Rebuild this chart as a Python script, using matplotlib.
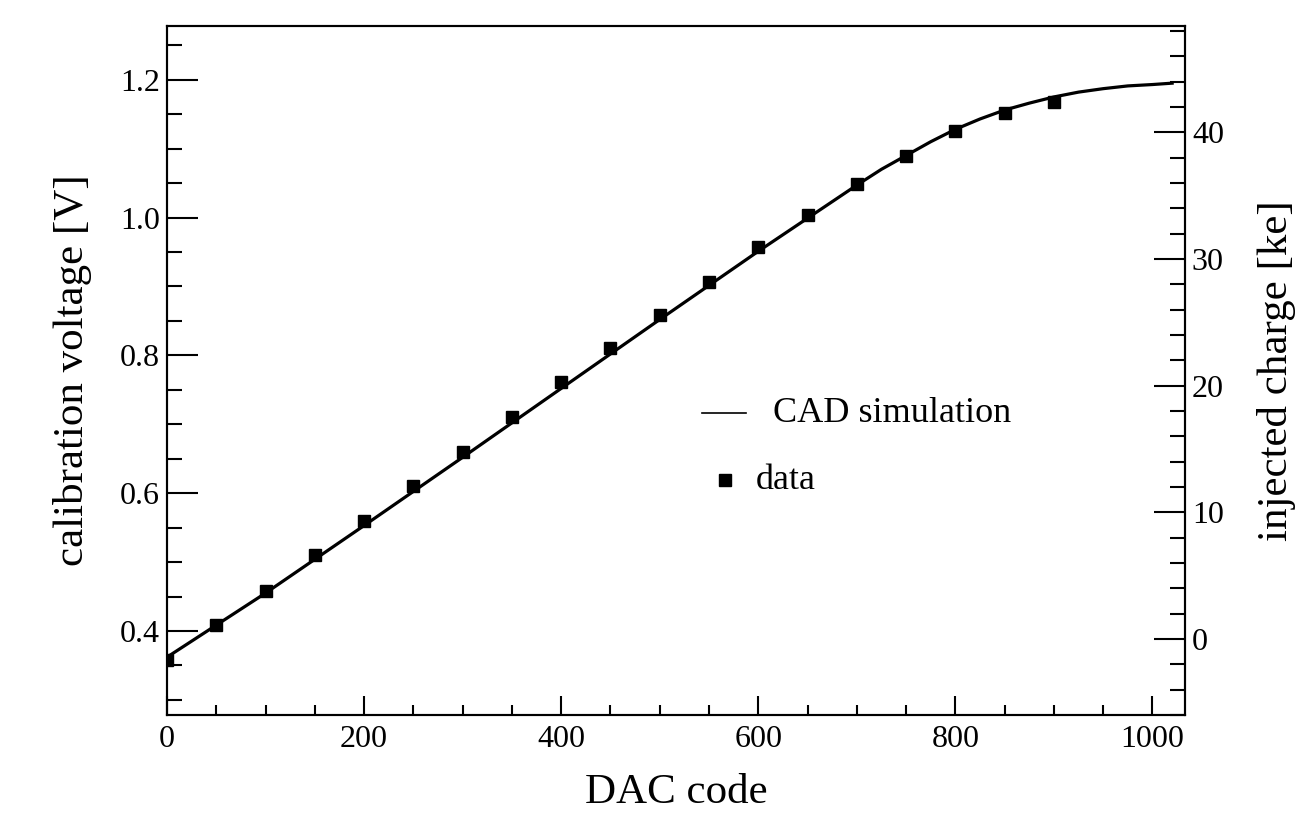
import matplotlib.pyplot as plt
import numpy as np
from matplotlib.ticker import MultipleLocator

plt.rcParams['font.family'] = ['Liberation Serif', 'DejaVu Serif']

# measured calibration points
dac_data = [0, 50, 100, 150, 200, 250, 300, 350, 400, 450,
            500, 550, 600, 650, 700, 750, 800, 850, 900]
volt_data = [0.358, 0.409, 0.458, 0.510, 0.559, 0.610, 0.659, 0.710, 0.761, 0.810,
             0.859, 0.907, 0.957, 1.003, 1.049, 1.090, 1.126, 1.152, 1.167]

# CAD simulation curve
dac_sim = [0, 100, 200, 300, 400, 500, 600, 700, 725, 750, 775, 800,
           825, 850, 875, 900, 925, 950, 975, 1000, 1020]
volt_sim = [0.362, 0.455, 0.553, 0.652, 0.752, 0.852, 0.951, 1.047, 1.070, 1.090, 1.110, 1.128,
            1.143, 1.156, 1.166, 1.175, 1.182, 1.187, 1.191, 1.193, 1.195]

# voltage -> injected charge conversion (ke)
v_offset = 0.3884
ke_per_volt = 54.4

fig = plt.figure(figsize=(13.03, 8.27), dpi=100)
ax = fig.add_axes([0.1282, 0.1354, 0.7812, 0.8332])

ax.plot(dac_sim, volt_sim, color='black', lw=2.3, zorder=2)
ax.plot(dac_data, volt_data, 's', color='black', ms=8, zorder=3)

ax.set_xlim(0, 1033)
ax.set_ylim(0.278, 1.278)
ax.xaxis.set_major_locator(MultipleLocator(200))
ax.xaxis.set_minor_locator(MultipleLocator(50))
ax.yaxis.set_major_locator(MultipleLocator(0.2))
ax.yaxis.set_minor_locator(MultipleLocator(0.05))
ax.yaxis.set_major_formatter(plt.FormatStrFormatter('%.1f'))

ax.tick_params(axis='x', which='major', direction='in', length=14, width=1.5,
               labelsize=23, pad=7, top=False)
ax.tick_params(axis='x', which='minor', direction='in', length=7, width=1.5, top=False)
ax.tick_params(axis='y', which='major', direction='in', length=22, width=1.5,
               labelsize=23, pad=5, right=False)
ax.tick_params(axis='y', which='minor', direction='in', length=11, width=1.5, right=False)
for s in ax.spines.values():
    s.set_linewidth(1.5)

ax.set_xlabel('DAC code', fontsize=31, labelpad=14)
ax.set_ylabel('calibration voltage [V]', fontsize=31, labelpad=20)

ax2 = ax.twinx()
lo, hi = ax.get_ylim()
ax2.set_ylim((lo - v_offset) * ke_per_volt, (hi - v_offset) * ke_per_volt)
ax2.yaxis.set_major_locator(MultipleLocator(10))
ax2.yaxis.set_minor_locator(MultipleLocator(2))
ax2.tick_params(axis='y', which='major', direction='in', length=22, width=1.5,
                labelsize=23, pad=5)
ax2.tick_params(axis='y', which='minor', direction='in', length=11, width=1.5)
for s in ax2.spines.values():
    s.set_linewidth(1.5)
ax2.set_ylabel('injected charge [ke]', fontsize=31, labelpad=24)

# legend drawn by hand
ax.plot([0.526, 0.569], [0.438, 0.438], color='black', lw=1.2, transform=ax.transAxes)
ax.text(0.595, 0.438, 'CAD simulation', fontsize=26, va='center', ha='left',
        transform=ax.transAxes)
ax.plot([0.548], [0.341], 's', color='black', ms=8, transform=ax.transAxes)
ax.text(0.578, 0.341, 'data', fontsize=26, va='center', ha='left',
        transform=ax.transAxes)

fig.savefig('out.png', dpi=100)
